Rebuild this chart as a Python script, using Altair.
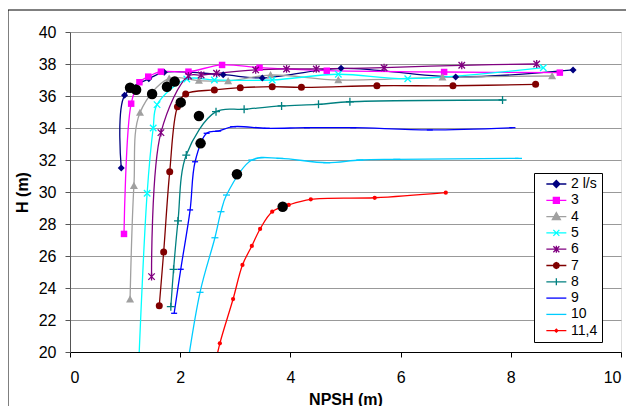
import altair as alt
import pandas as pd

series_names = ["2 l/s", "3", "4", "5", "6", "7", "8", "9", "10", "11,4"]
series_colors = ["#000080", "#FF00FF", "#A0A0A0", "#00FFFF", "#800080",
                 "#800000", "#008080", "#0000FF", "#00CCFF", "#FF0000"]

s2_x = [0.93, 0.99, 1.43, 1.71, 2.78, 3.49, 4.92, 7.00, 9.13]
s2_y = [31.5, 36.04, 37.08, 37.48, 37.33, 37.13, 37.73, 37.19, 37.63]

s3_x = [0.98, 1.11, 1.26, 1.42, 1.65, 2.15, 2.76, 3.44, 4.66, 6.79, 8.89]
s3_y = [27.38, 35.52, 36.86, 37.21, 37.52, 37.52, 37.94, 37.77, 37.58, 37.50, 37.46]

s4_x = [1.09, 1.16, 1.27, 1.80, 2.34, 2.87, 3.64, 4.87, 6.76, 8.75]
s4_y = [23.29, 30.39, 34.96, 37.10, 36.96, 36.94, 37.31, 37.00, 37.17, 37.25]

s5_x = [1.22, 1.40, 1.51, 1.58, 2.12, 2.62, 3.67, 4.87, 6.13, 8.59]
s5_y = [17.0, 29.92, 34.00, 35.46, 37.06, 37.00, 37.00, 37.36, 37.08, 37.77]

s6_x = [1.48, 1.65, 2.15, 2.38, 2.66, 3.37, 3.93, 4.47, 5.70, 7.11, 8.47]
s6_y = [24.71, 33.71, 37.25, 37.31, 37.42, 37.63, 37.69, 37.69, 37.77, 37.92, 38.00]

s7_x = [1.62, 1.70, 1.81, 1.95, 2.10, 2.62, 3.09, 3.67, 4.20, 5.57, 6.95, 8.45]
s7_y = [22.89, 26.25, 31.27, 35.33, 36.13, 36.38, 36.52, 36.58, 36.54, 36.64, 36.64, 36.73]

s8_x = [1.83, 1.88, 1.96, 2.11, 2.65, 3.16, 3.84, 4.51, 5.08, 7.85]
s8_y = [22.83, 25.17, 28.19, 32.31, 35.02, 35.17, 35.38, 35.48, 35.64, 35.75]

s9_x = [1.89, 2.01, 2.18, 2.27, 2.48, 2.69, 2.96, 3.57, 4.30, 5.14, 6.53, 8.03]
s9_y = [22.42, 25.17, 28.88, 31.89, 33.67, 33.81, 34.08, 33.98, 34.02, 34.02, 33.88, 34.02]

s10_x = [2.06, 2.36, 2.63, 2.74, 2.84, 3.30, 3.81, 4.66, 5.26, 5.93, 8.14]
s10_y = [17.5, 23.73, 27.14, 28.77, 29.81, 32.00, 32.10, 31.83, 32.00, 32.04, 32.10]

s11_x = [2.62, 2.72, 2.96, 3.13, 3.30, 3.45, 3.67, 3.97, 4.37, 5.53, 6.82]
s11_y = [19.0, 20.54, 23.31, 25.44, 26.63, 27.69, 28.77, 29.19, 29.54, 29.64, 29.96]

knee_x = [1.09, 1.20, 1.49, 1.76, 1.90, 2.01, 2.34, 2.37, 3.03, 3.86]
knee_y = [36.52, 36.39, 36.13, 36.58, 36.90, 35.60, 34.75, 33.04, 31.11, 29.08]

x_ticks = [0, 2, 4, 6, 8, 10]
y_ticks = [20, 22, 24, 26, 28, 30, 32, 34, 36, 38, 40]

all_x = [s2_x, s3_x, s4_x, s5_x, s6_x, s7_x, s8_x, s9_x, s10_x, s11_x]
all_y = [s2_y, s3_y, s4_y, s5_y, s6_y, s7_y, s8_y, s9_y, s10_y, s11_y]

rows = []
for sid, (name, xs, ys) in enumerate(zip(series_names, all_x, all_y)):
    for i, (xv, yv) in enumerate(zip(xs, ys)):
        rows.append({"series": name, "sid": sid, "x": xv, "y": yv, "order": i})
df = pd.DataFrame(rows)
knee_df = pd.DataFrame({"x": knee_x, "y": knee_y})

# marker styles: (path, filled, size)
marker_styles = [
    ("M0,-1L1,0L0,1L-1,0Z", True, 49),
    ("M-1,-1H1V1H-1Z", True, 42),
    ("M0,-1L1,0.8L-1,0.8Z", True, 64),
    ("M-1,-1L1,1M-1,1L1,-1", False, 42),
    ("M-1,-1L1,1M-1,1L1,-1M0,-1.2L0,1.2", False, 42),
    ("circle", True, 49),
    ("M-1,0L1,0M0,-1L0,1", False, 64),
    ("M-1,0L1,0", False, 36),
    ("M-1,0L1,0", False, 49),
    ("circle", True, 18),
]

# legend symbols: a short line with the series marker in its middle
legend_paths = [
    "M0.27,0L4.27,0M2.27,-0.7L2.97,0L2.27,0.7L1.57,0Z",
    "M0.27,0L4.27,0M1.67,-0.6L2.87,-0.6L2.87,0.6L1.67,0.6Z",
    "M0.27,0L4.27,0M2.27,-0.8L3.07,0.6L1.47,0.6Z",
    "M0.27,0L4.27,0M1.67,-0.6L2.87,0.6M1.67,0.6L2.87,-0.6",
    "M0.27,0L4.27,0M1.67,-0.6L2.87,0.6M1.67,0.6L2.87,-0.6M2.27,-0.7L2.27,0.7",
    "M0.27,0L4.27,0M1.67,0L1.85,-0.42L2.27,-0.6L2.69,-0.42L2.87,0L2.69,0.42L2.27,0.6L1.85,0.42Z",
    "M0.27,0L4.27,0M2.27,-0.7L2.27,0.7",
    "M0.27,0L4.27,0",
    "M0.27,0L4.27,0",
    "M0.27,0L4.27,0M1.97,0L2.27,-0.3L2.57,0L2.27,0.3Z",
]

FONT = "Liberation Sans"
xscale = alt.Scale(domain=[0, 10], nice=False, zero=False)
yscale = alt.Scale(domain=[20, 40], nice=False, zero=False)

xaxis = alt.Axis(
    values=x_ticks, grid=False, title="NPSH (m)", labelOverlap=False,
    domainColor="black", tickColor="black", tickSize=5,
    labelFont=FONT, labelFontSize=16, labelColor="black", labelPadding=12,
    titleFont=FONT, titleFontSize=16, titleFontWeight="bold", titleColor="black",
    titlePadding=6)
yaxis = alt.Axis(
    values=y_ticks, grid=True, gridColor="#999999", title="H (m)", labelOverlap=False,
    domainColor="#555555", tickColor="#555555", tickSize=5,
    labelFont=FONT, labelFontSize=16, labelColor="black", labelPadding=9,
    titleFont=FONT, titleFontSize=16, titleFontWeight="bold", titleColor="black",
    titlePadding=8)
xenc = alt.X("x:Q", scale=xscale, axis=xaxis)
yenc = alt.Y("y:Q", scale=yscale, axis=yaxis)

lines = alt.Chart(df).mark_line(strokeWidth=1.3, interpolate="catmull-rom", clip=True).encode(
    x=xenc, y=yenc,
    color=alt.Color("sid:N", scale=alt.Scale(domain=list(range(len(series_names))), range=series_colors),
                    legend=None),
    order="order:Q",
)

one = pd.DataFrame({"a": [0]})
frame_left = alt.Chart(one).mark_rule(color="black", strokeWidth=1, clip=False).encode(
    x=alt.value(-62), y=alt.value(-22), y2=alt.value(500))
frame_top = alt.Chart(one).mark_rule(color="black", strokeWidth=1, clip=False).encode(
    x=alt.value(-62), x2=alt.value(700), y=alt.value(-22))

layers = [frame_left, frame_top, lines]
for name, col, (shape, filled, size) in zip(series_names, series_colors, marker_styles):
    m = alt.Chart(df).transform_filter(alt.datum.series == name).mark_point(
        shape=shape, filled=filled, size=size, color=col, opacity=1,
        strokeWidth=1.3, clip=True
    ).encode(x=xenc, y=yenc)
    layers.append(m)

knees = alt.Chart(knee_df).mark_point(
    shape="circle", filled=True, size=110, color="black", opacity=1, clip=True
).encode(x=xenc, y=yenc)
layers.append(knees)

leg = alt.Legend(
    title=None, orient="none", legendX=464, legendY=141,
    fillColor="white", strokeColor="black", padding=4,
    labelFont=FONT, labelFontSize=14, labelColor="black", labelOffset=19,
    labelExpr="datum.label + '  '",
    symbolSize=100, symbolStrokeWidth=1.3, rowPadding=2.3,
)
cscale = alt.Scale(domain=series_names, range=series_colors)
legend_layer = alt.Chart(df).mark_point(fillOpacity=0, strokeOpacity=0, clip=True).encode(
    x=xenc, y=yenc,
    fill=alt.Fill("series:N", scale=cscale, legend=leg),
    stroke=alt.Stroke("series:N", scale=cscale, legend=leg),
    shape=alt.Shape("series:N", scale=alt.Scale(domain=series_names, range=legend_paths), legend=leg),
)
layers.append(legend_layer)

chart = alt.layer(*layers).properties(
    width=551, height=320,
    autosize=alt.AutoSizeParams(type="none"),
    padding={"left": 62, "top": 24, "right": 5, "bottom": 54},
).configure_view(
    stroke="#999999", strokeWidth=1
).configure(background="white")

chart.save("out.html", embed_options={"renderer": "svg", "actions": False})
